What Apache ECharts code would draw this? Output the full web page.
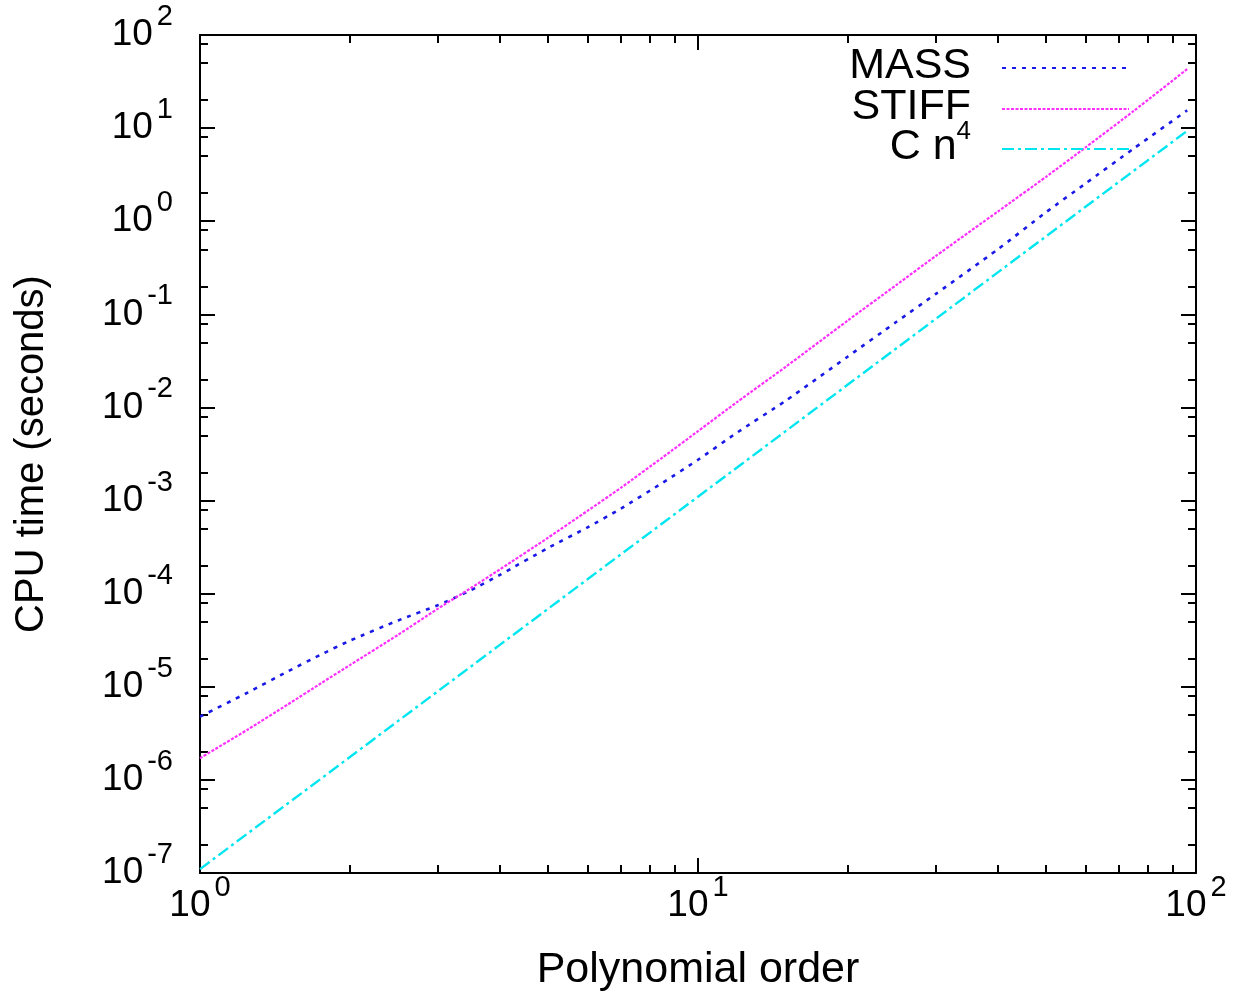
<!DOCTYPE html>
<html>
<head>
<meta charset="utf-8">
<title>CPU time versus polynomial order</title>
<script src="https://cdn.jsdelivr.net/npm/echarts@6/dist/echarts.min.js"></script>
<style>
  html, body { margin: 0; padding: 0; background: #ffffff; }
  #chart { width: 1236px; height: 997px; }
</style>
</head>
<body>
<div id="chart"></div>
<script>
// Polynomial order n at which the timings are plotted
const polynomialOrder = [1, 1.25, 1.5, 1.75, 2, 2.5, 3, 3.5, 4, 5, 6, 7, 8.5, 10, 12, 15, 20, 25, 30, 40, 50, 60, 75, 96];

// CPU time in seconds for assembling the mass matrix
const massTime = [4.78e-6, 8.73e-6, 1.46e-5, 2.22e-5, 3.13e-5, 5.16e-5, 7.5e-5, 1.09e-4, 1.59e-4, 3.10e-4,
                  5.15e-4, 8.20e-4, 1.56e-3, 2.74e-3, 5.4e-3, 1.18e-2, 3.53e-2, 8.26e-2, 0.165, 0.499,
                  1.25, 2.54, 6.04, 15.5];

// CPU time in seconds for assembling the stiffness matrix
const stiffTime = [1.71e-6, 3.5e-6, 6.45e-6, 1.09e-5, 1.71e-5, 3.62e-5, 6.87e-5, 1.15e-4, 1.82e-4, 3.99e-4,
                   7.76e-4, 1.37e-3, 2.92e-3, 5.56e-3, 1.15e-2, 2.73e-2, 8.6e-2, 0.206, 0.422, 1.27,
                   3.0, 6.2, 15.3, 43.0];

// Reference growth C n^4
const cn4Time = [1.1e-7, 2.69e-7, 5.57e-7, 1.03e-6, 1.76e-6, 4.30e-6, 8.91e-6, 1.65e-5, 2.82e-5, 6.88e-5,
                 1.43e-4, 2.64e-4, 5.74e-4, 1.1e-3, 2.28e-3, 5.57e-3, 1.76e-2, 4.30e-2, 8.91e-2, 0.282,
                 0.688, 1.43, 3.48, 9.34];

// Decade exponents shown as tick labels (10^e)
const xExponents = [0, 1, 2];
const yExponents = [-7, -6, -5, -4, -3, -2, -1, 0, 1, 2];

// Mantissas of the minor ticks inside each decade
const xMinorMantissas = [2, 3, 4, 5, 6, 7, 8, 9];
const yMinorMantissas = [2, 5, 8];

// Legend entries, top to bottom
const seriesNames = ['MASS', 'STIFF', 'C n^4'];

const FONT = '"Liberation Sans", Arial, Helvetica, sans-serif';

function decades(exps) {
  return exps.map(e => Number('1e' + e));
}
function minorValues(exps, mantissas) {
  const out = [];
  for (let i = 0; i < exps.length - 1; i++) {
    mantissas.forEach(m => out.push(Number(m + 'e' + exps[i])));
  }
  return out;
}
function pairs(xs, ys) {
  return xs.map((x, i) => [x, ys[i]]);
}

const xMajor = decades(xExponents);
const yMajor = decades(yExponents);
const xMinor = minorValues(xExponents, xMinorMantissas);
const yMinor = minorValues(yExponents, yMinorMantissas);

const powerLabel = {
  fontFamily: FONT,
  color: '#000',
  formatter: v => '{b|10}{s|' + Math.round(Math.log10(v)) + '}',
  rich: {
    b: { fontFamily: FONT, fontSize: 37, lineHeight: 37, verticalAlign: 'bottom', color: '#000' },
    s: { fontFamily: FONT, fontSize: 29, lineHeight: 37, verticalAlign: 'bottom', color: '#000', padding: [0, 0, 22, 4] }
  }
};

const frameLine = { show: true, onZero: false, lineStyle: { color: '#000', width: 2 } };

function logAxis(extra) {
  return Object.assign({
    type: 'log',
    logBase: 10,
    splitLine: { show: false },
    minorTick: { show: false },
    minorSplitLine: { show: false }
  }, extra);
}

// bottom/left carry labels and major ticks; overlays add the shorter minor ticks; top/right mirror them
function axisSet(dim, min, max, major, minor, labelOpts, nameOpts) {
  const near = dim === 'x' ? 'bottom' : 'left';
  const far = dim === 'x' ? 'top' : 'right';
  return [
    logAxis(Object.assign({
      position: near, min, max,
      axisLine: frameLine,
      axisTick: { show: true, inside: true, length: 15, customValues: major, lineStyle: { color: '#000', width: 2 } },
      axisLabel: Object.assign({ show: true, customValues: major }, labelOpts)
    }, nameOpts)),
    logAxis({
      position: near, min, max,
      axisLine: { show: false },
      axisTick: { show: true, inside: true, length: 8, customValues: minor, lineStyle: { color: '#000', width: 2 } },
      axisLabel: { show: false }
    }),
    logAxis({
      position: far, min, max,
      axisLine: frameLine,
      axisTick: { show: true, inside: true, length: 15, customValues: major, lineStyle: { color: '#000', width: 2 } },
      axisLabel: { show: false }
    }),
    logAxis({
      position: far, min, max,
      axisLine: { show: false },
      axisTick: { show: true, inside: true, length: 8, customValues: minor, lineStyle: { color: '#000', width: 2 } },
      axisLabel: { show: false }
    })
  ];
}

const xAxes = axisSet('x', 1, 100, xMajor, xMinor,
  Object.assign({}, powerLabel, { margin: 14 }),
  { name: 'Polynomial order', nameLocation: 'middle', nameGap: 76,
    nameTextStyle: { fontFamily: FONT, fontSize: 43, color: '#000' } });

const yAxes = axisSet('y', 1e-7, 100, yMajor, yMinor,
  Object.assign({}, powerLabel, { margin: 27 }),
  { name: 'CPU time (seconds)', nameLocation: 'middle', nameGap: 148,
    nameTextStyle: { fontFamily: FONT, fontSize: 40, color: '#000' } });

const legendRich = {
  t: { fontFamily: FONT, fontSize: 43, lineHeight: 40, verticalAlign: 'bottom', color: '#000' },
  s: { fontFamily: FONT, fontSize: 26, lineHeight: 40, verticalAlign: 'bottom', color: '#000', padding: [0, 0, 24, 0] }
};

// one legend block per entry so each row sits at its own height
const legendTops = [40, 81, 114];
const legends = seriesNames.map((name, i) => ({
  orient: 'vertical',
  right: 101,
  top: legendTops[i],
  align: 'right',
  itemWidth: 127,
  itemHeight: 10,
  itemGap: 0,
  selectedMode: false,
  data: [name],
  itemStyle: { opacity: 0 },
  formatter: n => n === 'C n^4' ? '{t|C n}{s|4}' : '{t|' + n + '}',
  textStyle: { fontFamily: FONT, fontSize: 43, color: '#000', padding: [0, 26, 0, 0], rich: legendRich }
}));

const option = {
  backgroundColor: '#ffffff',
  animation: false,
  grid: { left: 200, right: 40, top: 35, bottom: 122, containLabel: false },
  xAxis: xAxes,
  yAxis: yAxes,
  legend: legends,
  series: [
    {
      name: seriesNames[0], type: 'line', xAxisIndex: 0, yAxisIndex: 0,
      symbol: 'none', smooth: 0.2,
      data: pairs(polynomialOrder, massTime),
      lineStyle: { color: '#1a1ae6', width: 2.6, type: [4, 6] },
      itemStyle: { color: '#1a1ae6' }
    },
    {
      name: seriesNames[1], type: 'line', xAxisIndex: 0, yAxisIndex: 0,
      symbol: 'none', smooth: 0.2,
      data: pairs(polynomialOrder, stiffTime),
      lineStyle: { color: '#ff30ff', width: 2.2, type: [3, 1.5] },
      itemStyle: { color: '#ff30ff' }
    },
    {
      name: seriesNames[2], type: 'line', xAxisIndex: 0, yAxisIndex: 0,
      symbol: 'none', smooth: false,
      data: pairs(polynomialOrder, cn4Time),
      lineStyle: { color: '#00e6f0', width: 2.4, type: [12, 4, 3, 4] },
      itemStyle: { color: '#00e6f0' }
    }
  ]
};

const chart = echarts.init(document.getElementById('chart'), null, { renderer: 'canvas' });
chart.setOption(option);
</script>
</body>
</html>
